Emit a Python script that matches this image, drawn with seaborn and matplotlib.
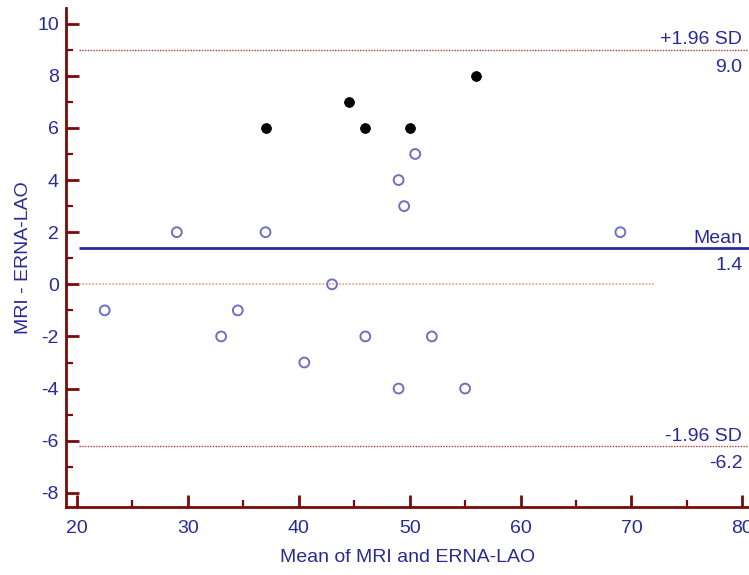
import matplotlib
matplotlib.use("Agg")
import matplotlib.pyplot as plt
import seaborn as sns
import pandas as pd
from matplotlib.ticker import MultipleLocator

# differences above the upper limit of agreement region (filled markers)
filled_mean = [37, 44.5, 46, 50, 56]
filled_diff = [6, 7, 6, 6, 8]

# remaining cases (open markers)
open_mean = [22.5, 29, 33, 34.5, 37, 40.5, 43, 46, 49, 49.5, 50.5, 49, 52, 55, 69]
open_diff = [-1, 2, -2, -1, 2, -3, 0, -2, 4, 3, 5, -4, -2, -4, 2]

mean_diff = 1.4
upper_loa = 9.0
lower_loa = -6.2

navy = "#2a2a96"
axis_red = "#7a0a0a"

sns.set_style("white")
plt.rcParams["font.family"] = ["Liberation Sans", "DejaVu Sans"]
plt.rcParams["axes.unicode_minus"] = False

fig = plt.figure(figsize=(7.49, 5.75), dpi=100)
ax = fig.add_axes([0.088, 0.118, 0.912, 0.868])

df_open = pd.DataFrame({"mean": open_mean, "diff": open_diff})
df_filled = pd.DataFrame({"mean": filled_mean, "diff": filled_diff})

sns.scatterplot(data=df_open, x="mean", y="diff", ax=ax, marker="o", s=50,
                facecolor="none", edgecolor="#6f6fc4", linewidth=1.4, zorder=4)
sns.scatterplot(data=df_filled, x="mean", y="diff", ax=ax, marker="o", s=50,
                color="black", edgecolor="black", zorder=4)

# reference lines
ax.hlines(upper_loa, 20.2, 80.6, colors="#b53a3a", linestyles=(0, (1, 1)), lw=1.0)
ax.hlines(lower_loa, 20.2, 80.6, colors="#b53a3a", linestyles=(0, (1, 1)), lw=1.0)
ax.hlines(mean_diff, 20.2, 80.6, colors=navy, lw=2.0, zorder=3)
ax.hlines(0, 20.2, 72, colors="#f4a268", linestyles=(0, (1, 1)), lw=1.2)

# right-hand labels
for y, name in [(upper_loa, "+1.96 SD"), (mean_diff, "Mean"), (lower_loa, "-1.96 SD")]:
    ax.text(80.0, y + 0.05, name, ha="right", va="bottom", color=navy, fontsize=14)
for y in [upper_loa, mean_diff, lower_loa]:
    ax.text(80.0, y - 0.35, f"{y:.1f}", ha="right", va="top", color=navy, fontsize=14)

ax.set_xlim(19.0, 80.6)
ax.set_ylim(-8.55, 10.6)
ax.xaxis.set_major_locator(MultipleLocator(10))
ax.xaxis.set_minor_locator(MultipleLocator(5))
ax.yaxis.set_major_locator(MultipleLocator(2))
ax.yaxis.set_minor_locator(MultipleLocator(1))
ax.set_xticks(range(20, 81, 10))
ax.set_yticks(range(-8, 11, 2))

ax.tick_params(which="both", bottom=True, left=True, top=False, right=False)
ax.tick_params(which="major", direction="in", length=9, width=2.0,
               color=axis_red, labelcolor=navy, labelsize=14)
ax.tick_params(which="minor", direction="in", length=5, width=1.6, color=axis_red)
ax.tick_params(axis="x", which="major", pad=9)
ax.tick_params(axis="y", which="major", pad=5)

for side in ["top", "right"]:
    ax.spines[side].set_visible(False)
for side in ["left", "bottom"]:
    ax.spines[side].set_color(axis_red)
    ax.spines[side].set_linewidth(2.0)

ax.set_xlabel("Mean of MRI and ERNA-LAO", color=navy, fontsize=14, labelpad=9)
ax.set_ylabel("MRI - ERNA-LAO", color=navy, fontsize=14, labelpad=4)

plt.savefig("out.png", dpi=100)
